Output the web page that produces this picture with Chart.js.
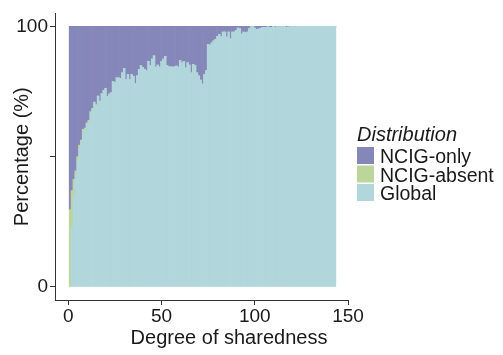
<!DOCTYPE html>
<html>
<head>
<meta charset="utf-8">
<script src="https://cdn.jsdelivr.net/npm/chart.js@4"></script>
<style>
  html, body { margin: 0; padding: 0; background: #fff; }
  #wrap { width: 503px; height: 355px; }
</style>
</head>
<body>
<div id="wrap"><canvas id="sharedChart" width="503" height="355"></canvas></div>
<script>
// Degree of sharedness (1..143)
const degrees = Array.from({ length: 143 }, (_, i) => i + 1);

// Percentage of each distribution class per degree
const globalPct = [
  0, 23, 34.7, 43.1, 48.5, 53.3, 55.6, 59.3, 60.4, 62.5,
  63.2, 66.9, 68.1, 70.7, 69.7, 73.2, 71.1, 74.0, 75.4, 76.1,
  73.2, 74, 74.5, 78.8, 78.5, 80.3, 80.3, 80, 82.2, 83.8,
  79.6, 81.5, 79.6, 81.5, 80.8, 78.1, 81, 83.4, 85, 84.2,
  83.5, 83, 86.6, 85, 87.5, 88.7, 84.4, 85.2, 84.4, 86.5,
  87.5, 88.5, 85, 84.5, 84.5, 84.4, 84.5, 84.8, 84.4, 86.9,
  86, 86.5, 84.1, 86, 85.2, 82.2, 85.5, 85, 82.2, 81,
  79.4, 77.9, 81.6, 83.1, 93, 92.8, 93.7, 94.5, 95, 96.2,
  97, 96, 97.8, 97.8, 95.9, 97.8, 95.2, 97.8, 97.8, 98.5,
  99.4, 99.2, 97.1, 97.8, 97.6, 97.8, 99.2, 99.8, 100, 99.4,
  98.9, 99, 99.3, 99.6, 99.7, 99.6, 99.8, 99.7, 99.6, 100,
  99.7, 100, 99.8, 99.9, 100, 100, 99.7, 99.8, 99.8, 100,
  99.8, 99.9, 100, 100, 100, 100, 100, 100, 100, 100,
  100, 100, 100, 100, 100, 100, 100, 100, 100, 100,
  100, 100, 100
];
const absentPct = [
  29.7, 14, 6.6, 1.5, 1.5, 1.2, 0.8, 1.2, 0.6, 0.5,
  0.8, 0.4, 0.5, 0.3, 0.3, 0.2, 0.2, 0.2, 0.1, 0.1,
  0, 0, 0, 0, 0, 0, 0, 0, 0, 0,
  0, 0, 0, 0, 0, 0, 0, 0, 0, 0,
  0, 0, 0, 0, 0, 0, 0, 0, 0, 0,
  0, 0, 0, 0, 0, 0, 0, 0, 0, 0,
  0, 0, 0, 0, 0, 0, 0, 0, 0, 0,
  0, 0, 0, 0, 0, 0, 0, 0, 0, 0,
  0, 0, 0, 0, 0, 0, 0, 0, 0, 0,
  0, 0, 0, 0, 0, 0, 0, 0, 0, 0,
  0, 0, 0, 0, 0, 0, 0, 0, 0, 0,
  0, 0, 0, 0, 0, 0, 0, 0, 0, 0,
  0, 0, 0, 0, 0, 0, 0, 0, 0, 0,
  0, 0, 0, 0, 0, 0, 0, 0, 0, 0,
  0, 0, 0
];
const onlyPct = [
  70.3, 63, 58.7, 55.4, 50, 45.5, 43.6, 39.5, 39, 37,
  36, 32.7, 31.4, 29, 30, 26.6, 28.7, 25.8, 24.5, 23.8,
  26.8, 26, 25.5, 21.2, 21.5, 19.7, 19.7, 20, 17.8, 16.2,
  20.4, 18.5, 20.4, 18.5, 19.2, 21.9, 19, 16.6, 15, 15.8,
  16.5, 17, 13.4, 15, 12.5, 11.3, 15.6, 14.8, 15.6, 13.5,
  12.5, 11.5, 15, 15.5, 15.5, 15.6, 15.5, 15.2, 15.6, 13.1,
  14, 13.5, 15.9, 14, 14.8, 17.8, 14.5, 15, 17.8, 19,
  20.6, 22.1, 18.4, 16.9, 7, 7.2, 6.3, 5.5, 5, 3.8,
  3, 4, 2.2, 2.2, 4.1, 2.2, 4.8, 2.2, 2.2, 1.5,
  0.6, 0.8, 2.9, 2.2, 2.4, 2.2, 0.8, 0.2, 0, 0.6,
  1.1, 1, 0.7, 0.4, 0.3, 0.4, 0.2, 0.3, 0.4, 0,
  0.3, 0, 0.2, 0.1, 0, 0, 0.3, 0.2, 0.2, 0,
  0.2, 0.1, 0, 0, 0, 0, 0, 0, 0, 0,
  0, 0, 0, 0, 0, 0, 0, 0, 0, 0,
  0, 0, 0
];

const xTicks = [0, 50, 100, 150];
const yTicks = [0, 50, 100];

const seriesNames = ['NCIG-only', 'NCIG-absent', 'Global'];
const seriesColors = ['#8587b9', '#bcd59a', '#b1d6dc'];

const FONT = '"Liberation Sans", Arial, sans-serif';
const INK = '#1a1a1a';

function points(values) {
  return values.map((v, i) => ({ x: degrees[i], y: v }));
}

// x-axis title and the legend, drawn onto the canvas after the chart
const extras = {
  id: 'extras',
  afterDraw(chart) {
    const ctx = chart.ctx;
    ctx.save();
    ctx.fillStyle = INK;
    ctx.font = '20px ' + FONT;
    ctx.textAlign = 'center';
    ctx.textBaseline = 'alphabetic';
    ctx.fillText('Degree of sharedness', 229, 344);

    ctx.textAlign = 'left';
    ctx.font = 'italic 20px ' + FONT;
    ctx.fillText('Distribution', 357, 141);

    ctx.font = '19.5px ' + FONT;
    seriesNames.forEach((name, i) => {
      const top = 147 + i * 18.5;
      ctx.fillStyle = seriesColors[i];
      ctx.fillRect(357, top, 17, 17);
      ctx.fillStyle = INK;
      ctx.fillText(name, 380, top + 16.3);
    });
    ctx.restore();
  }
};

function createChart() {
  const ctx = document.getElementById('sharedChart').getContext('2d');
  new Chart(ctx, {
    type: 'bar',
    data: {
      datasets: [
        { label: 'Global', data: points(globalPct), backgroundColor: seriesColors[2] },
        { label: 'NCIG-absent', data: points(absentPct), backgroundColor: seriesColors[1] },
        { label: 'NCIG-only', data: points(onlyPct), backgroundColor: seriesColors[0] }
      ]
    },
    options: {
      responsive: false,
      animation: false,
      events: [],
      datasets: { bar: { barPercentage: 1, categoryPercentage: 1, borderWidth: 0 } },
      layout: { padding: { top: 4.6, right: 155, bottom: 0, left: 0 } },
      plugins: { legend: { display: false }, tooltip: { enabled: false } },
      scales: {
        x: {
          type: 'linear',
          stacked: true,
          offset: false,
          min: -7.1,
          max: 150,
          afterBuildTicks: s => { s.ticks = xTicks.map(v => ({ value: v })); },
          afterFit: s => { s.height = 55; },
          grid: { offset: false, drawOnChartArea: false, drawTicks: true, tickLength: 5, tickColor: '#333', lineWidth: 1 },
          border: { display: true, color: '#333', width: 1 },
          ticks: { color: INK, font: { family: FONT, size: 19 }, padding: 0, maxRotation: 0, autoSkip: false }
        },
        y: {
          stacked: true,
          min: -5,
          max: 105,
          afterBuildTicks: s => { s.ticks = yTicks.map(v => ({ value: v })); },
          afterFit: s => { s.width = 55; },
          grid: { drawOnChartArea: false, drawTicks: true, tickLength: 5, tickColor: '#333', lineWidth: 1 },
          border: { display: true, color: '#333', width: 1 },
          ticks: {
            color: INK, font: { family: FONT, size: 19 }, padding: 2, autoSkip: false,
            callback: v => (v === 50 ? '' : String(v))
          },
          title: {
            display: true, text: 'Percentage (%)', color: INK,
            font: { family: FONT, size: 20 }, padding: { top: 10, bottom: 0 }
          }
        }
      }
    },
    plugins: [extras]
  });
}

window.onload = createChart;
</script>
</body>
</html>
